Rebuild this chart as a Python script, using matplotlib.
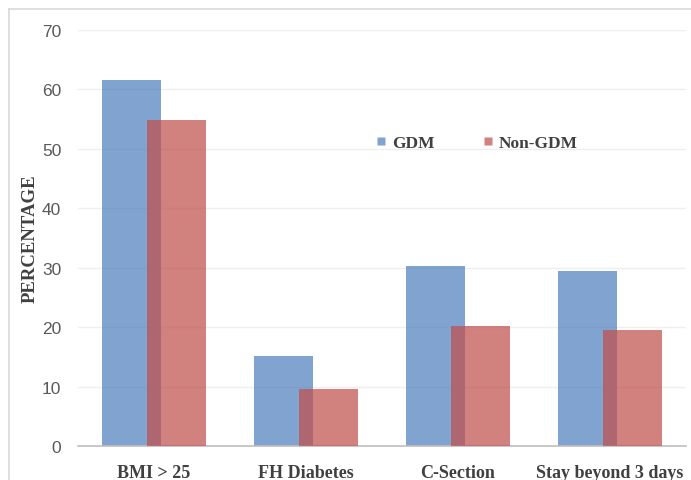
import matplotlib.pyplot as plt
from matplotlib.lines import Line2D
import numpy as np

# risk factors / outcomes, percent of each group
categories = ['BMI > 25', 'FH Diabetes', 'C-Section', 'Stay beyond 3 days']
gdm = [61.6, 15.1, 30.3, 29.5]
non_gdm = [54.9, 9.6, 20.2, 19.5]
yticks = [0, 10, 20, 30, 40, 50, 60, 70]

blue = '#4F81BD'
red = '#C0504D'
serif = ['Liberation Serif', 'DejaVu Serif']
narrow = ['Liberation Sans Narrow', 'Liberation Sans', 'DejaVu Sans']

fig = plt.figure(figsize=(6.91, 4.81), dpi=100)
ax = fig.add_axes([0.1129, 0.0707, 0.8799, 0.8649])

x = np.arange(len(categories))
w = 0.39
off = 0.148
ax.bar(x - off, gdm, w, color=blue, alpha=0.72, zorder=2)
ax.bar(x + off, non_gdm, w, color=red, alpha=0.72, zorder=3)

ax.set_xlim(-0.5, 3.5)
ax.set_ylim(0, 70)
ax.set_yticks(yticks)
ax.set_yticklabels([str(v) for v in yticks], family=narrow, fontsize=12.5, color='#595959')
ax.set_xticks(x)
ax.set_xticklabels(categories, family=serif, fontsize=13, fontweight='bold', color='#404040')
ax.tick_params(axis='both', length=0)
ax.tick_params(axis='y', pad=12)
ax.tick_params(axis='x', pad=13)

ax.grid(axis='y', color='#EFEFEF', linewidth=1, zorder=0)
ax.set_axisbelow(True)
for s in ['top', 'right', 'left']:
    ax.spines[s].set_visible(False)
ax.spines['bottom'].set_color('#BFBFBF')
ax.spines['bottom'].set_linewidth(1.2)

ax.set_ylabel('PERCENTAGE', family=serif, fontsize=13.5, fontweight='bold',
              color='#404040', labelpad=2)

handles = [Line2D([], [], marker='s', linestyle='none', markersize=6,
                  markerfacecolor=c, markeredgecolor='none', alpha=0.72)
           for c in (blue, red)]
leg = ax.legend(handles, ['GDM', 'Non-GDM'], loc='center', bbox_to_anchor=(0.656, 0.728),
                ncol=2, frameon=False, handlelength=0.6, handletextpad=0.3,
                columnspacing=2.8, prop={'family': serif, 'size': 12.5, 'weight': 'bold'})
for t in leg.get_texts():
    t.set_color('#404040')

# light outer chart border
fig.add_artist(Line2D([0.013, 1.0], [0.979, 0.979], color='#D9D9D9', linewidth=1.2))
fig.add_artist(Line2D([0.013, 0.013], [0.0, 0.979], color='#D9D9D9', linewidth=1.2))

fig.savefig('out.png', dpi=100)
